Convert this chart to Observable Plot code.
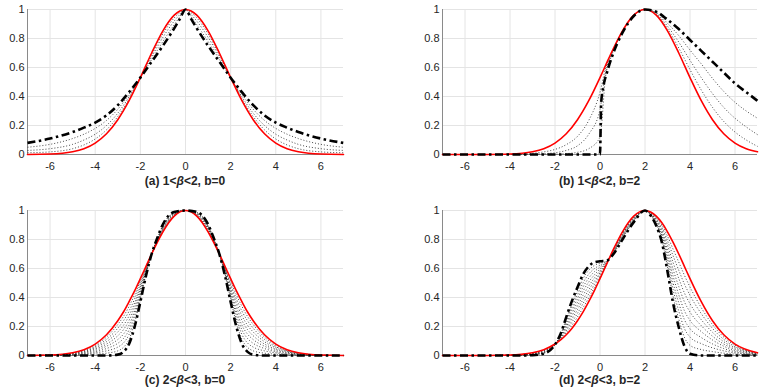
<!DOCTYPE html>
<html>
<head>
<meta charset="utf-8">
<script src="https://cdn.jsdelivr.net/npm/d3@7"></script>
<script src="https://cdn.jsdelivr.net/npm/@observablehq/plot@0.6"></script>
<style>
  html, body { margin: 0; padding: 0; background: #fff; }
  #wrap { position: relative; width: 762px; height: 391px; overflow: hidden; background: #fff; }
  .pn { position: absolute; }
  .cap { position: absolute; width: 300px; text-align: center; font: bold 12px "Liberation Sans", Arial, Helvetica, sans-serif; color: #262626; line-height: 14px; white-space: nowrap; }
  .cap i { font-weight: bold; }
</style>
</head>
<body>
<div id="wrap"></div>
<script>
// ---- axes ----
const xDomain = [-7, 7];
const yDomain = [0, 1];
const xTicks = [-6, -4, -2, 0, 2, 4, 6];
const yTicks = [0, 0.2, 0.4, 0.6, 0.8, 1];
const captions = [
  "(a) 1&lt;<i>β</i>&lt;2, b=0",
  "(b) 1&lt;<i>β</i>&lt;2, b=2",
  "(c) 2&lt;<i>β</i>&lt;3, b=0",
  "(d) 2&lt;<i>β</i>&lt;3, b=2"
];

// ---- panel (a) ----
const aX    = [-7,-6,-5,-4.5,-4,-3.5,-3,-2.5,-2,-1.5,-1,-0.5,-0.25,0,0.25,0.5,1,1.5,2,2.5,3,3.5,4,4.5,5,6,7];
const aRed  = [0.0004,0.003,0.019,0.040,0.079,0.143,0.240,0.371,0.530,0.700,0.853,0.961,0.990,1,0.990,0.961,0.853,0.700,0.530,0.371,0.240,0.143,0.079,0.040,0.019,0.003,0.0004];
const aDash = [0.08,0.11,0.155,0.185,0.22,0.27,0.34,0.43,0.53,0.64,0.75,0.87,0.935,1,0.935,0.87,0.75,0.64,0.53,0.43,0.34,0.27,0.22,0.185,0.155,0.11,0.08];
const aDot1 = [0.05,0.07,0.11,0.14,0.18,0.235,0.312,0.415,0.53,0.655,0.78,0.895,0.95,1,0.95,0.895,0.78,0.655,0.53,0.415,0.312,0.235,0.18,0.14,0.11,0.07,0.05];
const aDot2 = [0.028,0.04,0.07,0.1,0.14,0.2,0.285,0.398,0.53,0.673,0.808,0.92,0.965,1,0.965,0.92,0.808,0.673,0.53,0.398,0.285,0.2,0.14,0.1,0.07,0.04,0.028];
const aDot3 = [0.012,0.018,0.04,0.066,0.107,0.17,0.262,0.384,0.53,0.688,0.832,0.942,0.978,1,0.978,0.942,0.832,0.688,0.53,0.384,0.262,0.17,0.107,0.066,0.04,0.018,0.012];

// ---- panel (b) ----
const bX    = [-7,-6,-5,-4,-3,-2.5,-2,-1.5,-1,-0.5,0,0.25,0.5,1,1.5,2,2.5,3,3.5,4,4.5,5,5.5,6,6.5,7];
const bRed  = [0,0,0.0004,0.003,0.019,0.040,0.079,0.143,0.240,0.371,0.530,0.615,0.700,0.853,0.961,1,0.961,0.853,0.700,0.530,0.371,0.240,0.143,0.079,0.040,0.019];
const bDot1 = [0,0,0,0,0,0.001,0.002,0.006,0.015,0.04,0.12,0.54,0.675,0.845,0.957,1,0.98,0.905,0.82,0.72,0.625,0.525,0.435,0.36,0.3,0.25];
const bDot2 = [0,0,0,0,0.002,0.006,0.012,0.028,0.06,0.14,0.31,0.57,0.685,0.848,0.958,1,0.973,0.885,0.775,0.65,0.53,0.42,0.325,0.25,0.19,0.137];
const bDot3 = [0,0,0,0.001,0.008,0.018,0.035,0.068,0.125,0.235,0.43,0.595,0.693,0.851,0.96,1,0.967,0.868,0.735,0.585,0.445,0.325,0.228,0.155,0.1,0.056];
const bDashX = [-7,0,0.05,0.15,0.3,0.5,0.75,1,1.5,2,2.5,3,3.5,4,4.5,5,5.5,6,6.5,7];
const bDash  = [0,0,0.35,0.47,0.56,0.66,0.76,0.84,0.955,1,0.985,0.93,0.865,0.79,0.715,0.64,0.565,0.49,0.43,0.37];

// ---- panel (c) ----
const cX    = [-7,-6,-5,-4.5,-4,-3.5,-3,-2.75,-2.5,-2.25,-2,-1.75,-1.5,-1.25,-1,-0.5,0,0.5,1,1.25,1.5,1.75,2,2.25,2.5,2.75,3,3.5,4,4.5,5,6,7];
const cRed  = [0.0004,0.003,0.019,0.040,0.079,0.143,0.240,0.300,0.371,0.447,0.530,0.615,0.700,0.780,0.853,0.961,1,0.961,0.853,0.780,0.700,0.615,0.530,0.447,0.371,0.300,0.240,0.143,0.079,0.040,0.019,0.003,0.0004];
const cDash = [0,0,0,0,0,0,0.006,0.025,0.08,0.20,0.37,0.55,0.70,0.81,0.905,0.99,1,0.99,0.905,0.81,0.70,0.55,0.37,0.20,0.08,0.025,0.006,0,0,0,0,0,0];
const cDot1 = [0,0,0.002,0.004,0.009,0.016,0.032,0.056,0.112,0.227,0.388,0.557,0.70,0.807,0.899,0.987,1,0.987,0.899,0.807,0.70,0.557,0.388,0.227,0.112,0.056,0.032,0.016,0.009,0.004,0.002,0,0];
const cDot2 = [0,0.001,0.004,0.009,0.018,0.032,0.058,0.086,0.145,0.255,0.406,0.564,0.70,0.803,0.893,0.984,1,0.984,0.893,0.803,0.70,0.564,0.406,0.255,0.145,0.086,0.058,0.032,0.018,0.009,0.004,0.001,0];
const cDot3 = [0,0.001,0.006,0.013,0.026,0.048,0.084,0.117,0.177,0.282,0.423,0.572,0.70,0.800,0.888,0.980,1,0.980,0.888,0.800,0.70,0.572,0.423,0.282,0.177,0.117,0.084,0.048,0.026,0.013,0.006,0.001,0];
const cDot4 = [0,0.001,0.008,0.018,0.035,0.064,0.110,0.147,0.209,0.310,0.441,0.579,0.70,0.797,0.882,0.977,1,0.977,0.882,0.797,0.70,0.579,0.441,0.310,0.209,0.147,0.110,0.064,0.035,0.018,0.008,0.001,0];
const cDot5 = [0,0.002,0.011,0.022,0.044,0.079,0.136,0.178,0.242,0.337,0.459,0.586,0.70,0.793,0.876,0.974,1,0.974,0.876,0.793,0.70,0.586,0.459,0.337,0.242,0.178,0.136,0.079,0.044,0.022,0.011,0.002,0];
const cDot6 = [0,0.002,0.013,0.027,0.053,0.095,0.162,0.208,0.274,0.365,0.477,0.593,0.70,0.790,0.870,0.971,1,0.971,0.870,0.790,0.70,0.593,0.477,0.365,0.274,0.208,0.162,0.095,0.053,0.027,0.013,0.002,0];
const cDot7 = [0,0.002,0.015,0.031,0.061,0.111,0.188,0.239,0.306,0.392,0.494,0.601,0.70,0.787,0.865,0.967,1,0.967,0.865,0.787,0.70,0.601,0.494,0.392,0.306,0.239,0.188,0.111,0.061,0.031,0.015,0.002,0];
const cDot8 = [0,0.003,0.017,0.036,0.070,0.127,0.214,0.269,0.339,0.420,0.512,0.608,0.70,0.783,0.859,0.964,1,0.964,0.859,0.783,0.70,0.608,0.512,0.420,0.339,0.269,0.214,0.127,0.070,0.036,0.017,0.003,0];

// ---- panel (d) ----
const dX    = [-7,-5,-4,-3.5,-3,-2.5,-2,-1.75,-1.5,-1.25,-1,-0.75,-0.5,-0.25,0,0.3,0.6,1,1.5,2,2.25,2.5,2.75,3,3.25,3.5,3.75,4,4.5,5,5.5,6,7];
const dRed  = [0,0.0004,0.003,0.008,0.019,0.040,0.079,0.107,0.143,0.187,0.240,0.301,0.371,0.447,0.530,0.632,0.733,0.853,0.961,1,0.990,0.961,0.915,0.853,0.780,0.700,0.615,0.530,0.371,0.240,0.143,0.079,0.019];
const dDash = [0,0,0,0,0.002,0.012,0.075,0.15,0.265,0.375,0.47,0.56,0.615,0.643,0.65,0.655,0.70,0.80,0.92,1,0.965,0.895,0.78,0.58,0.36,0.195,0.065,0.012,0,0,0,0,0];
const dDot1 = [0,0,0,0.001,0.004,0.015,0.075,0.145,0.251,0.354,0.444,0.531,0.588,0.621,0.637,0.652,0.704,0.806,0.925,1,0.968,0.902,0.795,0.610,0.407,0.251,0.126,0.070,0.041,0.027,0.016,0.009,0.002];
const dDot2 = [0,0,0.001,0.002,0.006,0.018,0.076,0.140,0.238,0.333,0.419,0.502,0.561,0.599,0.623,0.650,0.707,0.812,0.929,1,0.971,0.910,0.810,0.641,0.453,0.307,0.187,0.127,0.082,0.053,0.032,0.018,0.004];
const dDot3 = [0,0,0.001,0.003,0.008,0.021,0.076,0.136,0.224,0.312,0.393,0.474,0.534,0.578,0.610,0.647,0.711,0.818,0.934,1,0.973,0.917,0.825,0.671,0.500,0.363,0.248,0.185,0.124,0.080,0.048,0.026,0.006];
const dDot4 = [0,0,0.001,0.004,0.010,0.024,0.077,0.131,0.211,0.291,0.368,0.445,0.507,0.556,0.597,0.645,0.715,0.824,0.938,1,0.976,0.924,0.840,0.701,0.547,0.419,0.309,0.242,0.165,0.107,0.064,0.035,0.008];
const dDot5 = [0,0,0.002,0.005,0.011,0.028,0.077,0.126,0.197,0.271,0.342,0.416,0.479,0.534,0.583,0.642,0.718,0.829,0.943,1,0.979,0.932,0.855,0.732,0.593,0.476,0.371,0.300,0.206,0.133,0.079,0.044,0.011];
const dDot6 = [0,0,0.002,0.005,0.013,0.031,0.078,0.121,0.184,0.250,0.317,0.387,0.452,0.512,0.570,0.640,0.722,0.835,0.947,1,0.982,0.939,0.870,0.762,0.640,0.532,0.432,0.357,0.247,0.160,0.095,0.053,0.013];
const dDot7 = [0,0,0.003,0.006,0.015,0.034,0.078,0.117,0.170,0.229,0.291,0.359,0.425,0.491,0.557,0.637,0.726,0.841,0.952,1,0.984,0.946,0.885,0.792,0.687,0.588,0.493,0.415,0.289,0.187,0.111,0.061,0.015];
const dDot8 = [0,0,0.003,0.007,0.017,0.037,0.079,0.112,0.157,0.208,0.266,0.330,0.398,0.469,0.543,0.635,0.729,0.847,0.956,1,0.987,0.954,0.900,0.823,0.733,0.644,0.554,0.472,0.330,0.213,0.127,0.070,0.017];

// ---- styles ----
const redStyle  = {stroke: "#ff0000", strokeWidth: 1.6, curve: "monotone-x"};
const dashStyle = {stroke: "#000", strokeWidth: 2.6, strokeDasharray: "8,3.5,2.5,3.5", strokeLinecap: "butt", curve: "monotone-x"};
const dotStyle  = {stroke: "#333", strokeWidth: 0.9, strokeDasharray: "1,2", strokeLinecap: "butt", curve: "monotone-x"};

function line(xs, ys, style) {
  return Plot.line(ys, {x: xs, y: ys, ...style});
}

function panel(p) {
  const marks = [
    Plot.gridX(xTicks, {stroke: "#e4e4e4", strokeOpacity: 1}),
    Plot.gridY(yTicks, {stroke: "#e4e4e4", strokeOpacity: 1}),
    Plot.ruleX([xDomain[0]], {stroke: "#8a8a8a", strokeWidth: 1}),
    Plot.ruleY([yDomain[0]], {stroke: "#8a8a8a", strokeWidth: 1}),
    ...p.dots.map(d => line(p.x, d, dotStyle)),
    line(p.x, p.red, redStyle),
    line(p.dashX || p.x, p.dash, dashStyle)
  ];
  const svg = Plot.plot({
    width: 381,
    height: 175,
    marginLeft: p.ml,
    marginRight: p.mr,
    marginTop: p.mt,
    marginBottom: p.mb,
    x: {domain: xDomain, ticks: xTicks, tickFormat: d => String(d), tickSize: 0, tickPadding: 8, label: null},
    y: {domain: yDomain, ticks: yTicks, tickFormat: d => String(d), tickSize: 0, tickPadding: 3, label: null},
    style: {fontFamily: '"Liberation Sans", Arial, Helvetica, sans-serif', fontSize: "11px", color: "#262626", background: "transparent", overflow: "visible"},
    marks
  });
  svg.classList.add("pn");
  svg.style.left = p.left + "px";
  svg.style.top = p.top + "px";
  const wrap = document.getElementById("wrap");
  wrap.appendChild(svg);
  const cap = document.createElement("div");
  cap.className = "cap";
  cap.innerHTML = p.caption;
  const cx = p.left + p.ml + (381 - p.ml - p.mr) / 2;
  cap.style.left = (cx - 150) + "px";
  cap.style.top = p.capTop + "px";
  wrap.appendChild(cap);
}

panel({x: aX, red: aRed, dash: aDash, dots: [aDot1, aDot2, aDot3],
  left: 0, top: 0, ml: 27, mr: 38, mt: 9, mb: 21, caption: captions[0], capTop: 174});
panel({x: bX, red: bRed, dash: bDash, dashX: bDashX, dots: [bDot1, bDot2, bDot3],
  left: 381, top: 0, ml: 61, mr: 5, mt: 9, mb: 21, caption: captions[1], capTop: 174});
panel({x: cX, red: cRed, dash: cDash, dots: [cDot1, cDot2, cDot3, cDot4, cDot5, cDot6, cDot7, cDot8],
  left: 0, top: 200, ml: 27, mr: 38, mt: 10, mb: 20, caption: captions[2], capTop: 373});
panel({x: dX, red: dRed, dash: dDash, dots: [dDot1, dDot2, dDot3, dDot4, dDot5, dDot6, dDot7, dDot8],
  left: 381, top: 200, ml: 61, mr: 5, mt: 10, mb: 20, caption: captions[3], capTop: 373});
</script>
</body>
</html>
